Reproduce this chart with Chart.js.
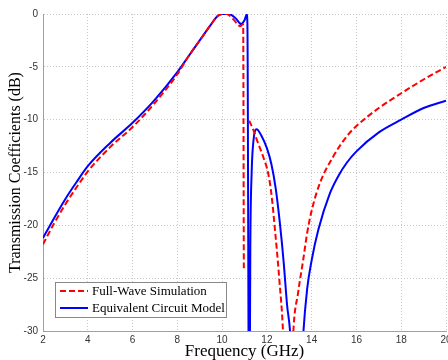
<!DOCTYPE html>
<html>
<head>
<meta charset="utf-8">
<script src="https://cdn.jsdelivr.net/npm/chart.js@4/dist/chart.umd.min.js"></script>
<style>
  html, body { margin: 0; padding: 0; background: #fff; }
  #wrap { width: 448px; height: 360px; position: relative; }
</style>
</head>
<body>
<div id="wrap"><canvas id="s21-chart"></canvas></div>
<script>
// frequency (GHz) and transmission (dB); null = gap in the trace
const freqFullWave = [2, 2.5, 3, 3.5, 4, 5, 6, 7, 8, 8.5, 9, 9.5, 9.8, 10, 10.2, 10.5, 10.8, 10.94, 10.97,
  11.1,
  11.21, 11.4, 11.6, 11.85, 12.06, 12.2, 12.36, 12.55, 12.73, 12.95, 13.17, 13.4, 13.62, 13.8, 14.0, 14.37, 14.96, 15.56, 16, 17, 18, 19, 20];
const s21FullWave = [-21.8, -19.8, -18.0, -16.4, -14.9, -12.6, -10.7, -8.4, -5.7, -4.0, -2.5, -1.0, -0.2, 0, 0, -0.5, -1.15, -1.0, -24.2,
  null,
  -10.1, -11.0, -12.2, -13.6, -15.1, -17.0, -20.4, -25.0, -30.5, -45, -30.5, -26.3, -23.3, -20.7, -18.6, -16.0, -13.5, -11.6, -10.6, -8.9, -7.5, -6.2, -5.0];

const freqCircuit = [2, 2.5, 3, 3.5, 4, 5, 6, 7, 8, 8.5, 9, 9.5, 9.8, 10, 10.3, 10.6, 10.85, 11.0, 11.1, 11.13, 11.21, 11.26, 11.32, 11.4, 11.54,
  11.75, 12.0, 12.2, 12.4, 12.58, 12.75, 12.9, 13.05, 13.33, 13.62, 13.8, 14.0, 14.3, 14.81, 15.2, 15.56, 16, 17, 18, 19, 20];
const s21Circuit = [-21.2, -19.3, -17.5, -15.9, -14.4, -12.2, -10.3, -8.1, -5.5, -4.0, -2.5, -1.0, -0.2, 0, 0, -0.4, -0.95, -0.6, -0.05, -1.0, -45, -22, -15, -12, -10.9,
  -11.5, -12.7, -14.2, -16.6, -19.8, -23.5, -27.5, -30.5, -45, -30.5, -26.0, -23.3, -20.4, -17.0, -15.3, -14.1, -13.0, -11.2, -10.0, -8.9, -8.2];

const xTicks = [2, 4, 6, 8, 10, 12, 14, 16, 18, 20];
const yTicks = [-30, -25, -20, -15, -10, -5, 0];

const seriesNames = ['Full-Wave Simulation', 'Equivalent Circuit Model'];
const xTitle = 'Frequency (GHz)';
const yTitle = 'Transmission Coefficients (dB)';

const toPoints = (xs, ys) => xs.map((x, i) => ({ x, y: ys[i] }));

const grey = '#a0a0a0';
const tickFont = { family: 'Liberation Sans, Arial, sans-serif', size: 10 };

// axis titles and the boxed legend, drawn on top
const decorations = {
  id: 'decorations',
  afterDraw(chart) {
    const { ctx, chartArea } = chart;
    ctx.save();
    ctx.fillStyle = '#000';
    ctx.font = '17px "Liberation Serif", "Times New Roman", serif';
    ctx.textAlign = 'center';
    ctx.textBaseline = 'middle';
    ctx.fillText(xTitle, (chartArea.left + chartArea.right) / 2, 352);
    ctx.save();
    ctx.translate(16, (chartArea.top + chartArea.bottom) / 2);
    ctx.rotate(-Math.PI / 2);
    ctx.font = '16px "Liberation Serif", "Times New Roman", serif';
    ctx.fillText(yTitle, 0, 0);
    ctx.restore();

    // legend
    const bx = 55, by = 282, bw = 171, bh = 35;
    ctx.fillStyle = '#fff';
    ctx.fillRect(bx, by, bw, bh);
    ctx.strokeStyle = '#888';
    ctx.lineWidth = 1;
    ctx.strokeRect(bx + 0.5, by + 0.5, bw, bh);
    ctx.font = '13px "Liberation Serif", "Times New Roman", serif';
    ctx.textAlign = 'left';
    chart.data.datasets.forEach((ds, i) => {
      const y = by + 9 + i * 17;
      ctx.strokeStyle = ds.borderColor;
      ctx.lineWidth = ds.borderWidth;
      ctx.setLineDash(ds.borderDash || []);
      ctx.beginPath();
      ctx.moveTo(bx + 5, y);
      ctx.lineTo(bx + 33, y);
      ctx.stroke();
      ctx.setLineDash([]);
      ctx.fillStyle = '#000';
      ctx.fillText(ds.label, bx + 37, y + 1);
    });
    ctx.restore();
  }
};

new Chart(document.getElementById('s21-chart'), {
  type: 'line',
  data: {
    datasets: [
      {
        label: seriesNames[0],
        data: toPoints(freqFullWave, s21FullWave),
        borderColor: '#ff0000',
        borderWidth: 2,
        borderDash: [6, 3],
        pointRadius: 0,
        fill: false,
        spanGaps: false,
        cubicInterpolationMode: 'monotone',
      },
      {
        label: seriesNames[1],
        data: toPoints(freqCircuit, s21Circuit),
        borderColor: '#0000ff',
        borderWidth: 2,
        pointRadius: 0,
        fill: false,
        cubicInterpolationMode: 'monotone',
      },
    ],
  },
  options: {
    responsive: true,
    maintainAspectRatio: false,
    animation: false,
    events: [],
    layout: { padding: { top: 14, right: 2, left: 0, bottom: 0 } },
    plugins: { legend: { display: false }, tooltip: { enabled: false } },
    scales: {
      x: {
        type: 'linear',
        min: 2,
        max: 20,
        afterBuildTicks: s => { s.ticks = xTicks.map(v => ({ value: v })); },
        afterFit: s => { s.height = 29; s.paddingLeft = 0; s.paddingRight = 0; },
        grid: { color: '#c8c8c8', drawTicks: false },
        border: { color: grey, width: 1, dash: [1, 2] },
        ticks: { color: '#333', font: tickFont, padding: 3, maxRotation: 0, autoSkip: false },
      },
      y: {
        min: -30,
        max: 0,
        afterBuildTicks: s => { s.ticks = yTicks.map(v => ({ value: v })); },
        afterFit: s => { s.width = 43; s.paddingTop = 0; s.paddingBottom = 0; },
        grid: { color: '#c8c8c8', drawTicks: false },
        border: { color: grey, width: 1, dash: [1, 2] },
        ticks: { color: '#333', font: tickFont, padding: 5, autoSkip: false },
      },
    },
  },
  plugins: [decorations],
});
</script>
</body>
</html>
